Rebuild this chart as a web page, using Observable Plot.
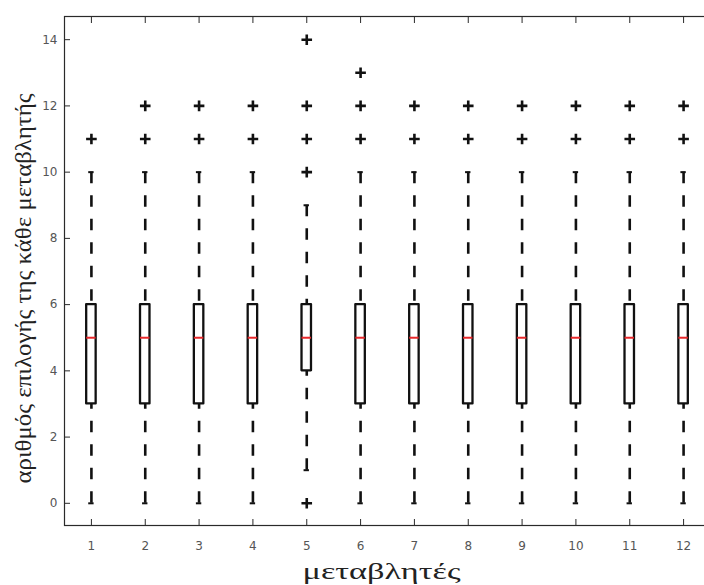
<!DOCTYPE html>
<html>
<head>
<meta charset="utf-8">
<script src="https://cdn.jsdelivr.net/npm/d3@7"></script>
<script src="https://cdn.jsdelivr.net/npm/@observablehq/plot@0.6"></script>
<style>
  html, body { margin: 0; padding: 0; background: #fff; overflow: hidden; }
  #chart { width: 704px; height: 585px; overflow: hidden; }
  #chart svg { display: block; max-width: none !important; }
</style>
</head>
<body>
<div id="chart"></div>
<script>
// Twelve variables, each summarised by a box plot
const variables = [1, 2, 3, 4, 5, 6, 7, 8, 9, 10, 11, 12];
const lowerQuartile = [3, 3, 3, 3, 4, 3, 3, 3, 3, 3, 3, 3];
const medians = [5, 5, 5, 5, 5, 5, 5, 5, 5, 5, 5, 5];
const upperQuartile = [6, 6, 6, 6, 6, 6, 6, 6, 6, 6, 6, 6];
const lowerWhisker = [0, 0, 0, 0, 1, 0, 0, 0, 0, 0, 0, 0];
const upperWhisker = [10, 10, 10, 10, 9, 10, 10, 10, 10, 10, 10, 10];
const outliers = [
  [11],
  [11, 12],
  [11, 12],
  [11, 12],
  [0, 10, 11, 12, 14],
  [11, 12, 13],
  [11, 12],
  [11, 12],
  [11, 12],
  [11, 12],
  [11, 12],
  [11, 12]
];
const yTicks = [0, 2, 4, 6, 8, 10, 12, 14];
const xTitle = "μεταβλητές";
const yTitle = "αριθμός επιλογής της κάθε μεταβλητής";

const boxes = variables.map((v, i) => ({
  x: v,
  q1: lowerQuartile[i],
  med: medians[i],
  q3: upperQuartile[i],
  lo: lowerWhisker[i],
  hi: upperWhisker[i]
}));
const outlierPoints = variables.flatMap((v, i) => outliers[i].map((y) => ({x: v, y})));

const boxHalf = 0.088;  // half box width, in variable units
const capHalf = 0.05;   // half whisker-cap width

// stroked "+" marker
const plusSymbol = {
  draw(context, size) {
    const r = Math.sqrt(size / Math.PI);
    context.moveTo(-r, 0); context.lineTo(r, 0);
    context.moveTo(0, -r); context.lineTo(0, r);
  }
};

const ink = "#111";
const axisInk = "#2a2a2a";
const tickFont = "DejaVu Sans, Liberation Sans, sans-serif";
const titleFont = "Liberation Serif, DejaVu Serif, serif";

const chart = Plot.plot({
  width: 712,
  height: 585,
  marginLeft: 64,
  marginRight: 2,
  marginTop: 16,
  marginBottom: 60,
  style: {background: "#fff", color: axisInk, fontFamily: tickFont, maxWidth: "none"},
  x: {domain: [0.5, 12.5]},
  y: {domain: [-0.67, 14.7]},
  marks: [
    // whiskers, dashed from the whisker end toward the box
    Plot.ruleX(boxes, {x: "x", y1: "hi", y2: "q3", stroke: ink, strokeWidth: 2.6, strokeDasharray: "11.5,12"}),
    Plot.ruleX(boxes, {x: "x", y1: "lo", y2: "q1", stroke: ink, strokeWidth: 2.6, strokeDasharray: "11.5,12"}),
    // whisker caps
    Plot.ruleY(boxes, {y: "hi", x1: (d) => d.x - capHalf, x2: (d) => d.x + capHalf, stroke: ink, strokeWidth: 2}),
    Plot.ruleY(boxes, {y: "lo", x1: (d) => d.x - capHalf, x2: (d) => d.x + capHalf, stroke: ink, strokeWidth: 2}),
    // interquartile boxes
    Plot.rect(boxes, {x1: (d) => d.x - boxHalf, x2: (d) => d.x + boxHalf, y1: "q1", y2: "q3", fill: "#fff", stroke: ink, strokeWidth: 2.3, strokeLinejoin: "round"}),
    // medians
    Plot.ruleY(boxes, {y: "med", x1: (d) => d.x - boxHalf, x2: (d) => d.x + boxHalf, stroke: "#e8282b", strokeWidth: 2}),
    // outliers
    Plot.dot(outlierPoints, {x: "x", y: "y", symbol: plusSymbol, r: 5.3, fill: "none", stroke: ink, strokeWidth: 2.6}),
    // axes with inward ticks on all four sides
    Plot.axisY(yTicks, {anchor: "left", tickSize: -6, tickPadding: 13, fontSize: 12, fill: "#555", stroke: axisInk, label: null}),
    Plot.axisY(yTicks, {anchor: "right", tickSize: -6, tickFormat: () => "", stroke: axisInk, label: null}),
    Plot.axisX(variables, {anchor: "bottom", tickSize: -6, tickPadding: 22, fontSize: 12, fill: "#555", stroke: axisInk, label: null}),
    Plot.axisX(variables, {anchor: "top", tickSize: -6, tickFormat: () => "", stroke: axisInk, label: null}),
    Plot.frame({stroke: axisInk, strokeWidth: 1.2}),
    // axis titles
    Plot.text([xTitle], {frameAnchor: "bottom", dy: 46.5, dx: -6, text: (d) => d, fontSize: 23, fontFamily: titleFont, fill: "#222", lineAnchor: "middle", textAnchor: "middle"}),
    Plot.text([yTitle], {frameAnchor: "left", dx: -41, dy: 17.5, rotate: -90, text: (d) => d, fontSize: 23, fontFamily: titleFont, fill: "#222", lineAnchor: "middle", textAnchor: "middle"})
  ]
});

// the axis titles are set in a wide, stretched face
d3.select(chart).selectAll("text")
  .filter(function () { return this.textContent === xTitle; })
  .attr("textLength", 158).attr("lengthAdjust", "spacingAndGlyphs");
d3.select(chart).selectAll("text")
  .filter(function () { return this.textContent === yTitle; })
  .attr("textLength", 390).attr("lengthAdjust", "spacingAndGlyphs");

document.getElementById("chart").appendChild(chart);
</script>
</body>
</html>
